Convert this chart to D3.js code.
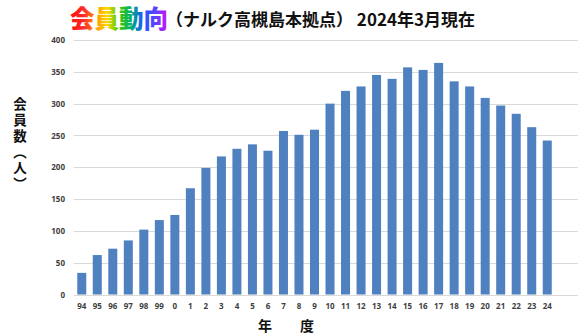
<!DOCTYPE html>
<html>
<head>
<meta charset="utf-8">
<script src="https://cdn.jsdelivr.net/npm/d3@7"></script>
<style>
  html, body { margin: 0; padding: 0; background: #fff; }
  svg { display: block; }
</style>
</head>
<body>
<svg id="chart" width="578" height="334"></svg>
<script>
// Fiscal years (two-digit) and member counts at the end of each year
const years = ["94","95","96","97","98","99","0","1","2","3","4","5","6","7","8","9",
               "10","11","12","13","14","15","16","17","18","19","20","21","22","23","24"];
const members = [34, 62, 72, 85, 102, 117, 125, 167, 199, 217, 229, 236, 226, 257, 251, 259,
                 300, 320, 327, 345, 339, 357, 353, 364, 335, 327, 309, 297, 284, 263, 242];
const yTicks = [0, 50, 100, 150, 200, 250, 300, 350, 400];
const titleMain = "会員動向";
const titleSub = "（ナルク高槻島本拠点） 2024年3月現在";
const yTitle = "会員数（人）";
const xTitle = "年　　度";

const W = 578, H = 334;
const plot = { left: 74, right: 555, top: 40, bottom: 294.5, gridRight: 578 };

const svg = d3.select("#chart");

const x = d3.scaleBand().domain(years).range([plot.left, plot.right]).paddingInner(0.42).paddingOuter(0.21);
const y = d3.scaleLinear().domain([0, 400]).range([plot.bottom, plot.top]);

// Horizontal gridlines
svg.append("g").selectAll("line").data(yTicks).join("line")
  .attr("x1", plot.left).attr("x2", plot.gridRight)
  .attr("y1", d => Math.round(y(d)) + 0.5).attr("y2", d => Math.round(y(d)) + 0.5)
  .attr("stroke", "#d9d9d9").attr("stroke-width", 1);

// Bars
svg.append("g").selectAll("rect").data(members).join("rect")
  .attr("x", (d, i) => x(years[i]))
  .attr("width", x.bandwidth())
  .attr("y", d => y(d))
  .attr("height", d => y(0) - y(d))
  .attr("fill", "#4f80bf");

// Y axis labels
const yAxis = d3.axisLeft(y).tickValues(yTicks).tickSize(0).tickPadding(9);
const gy = svg.append("g").attr("transform", `translate(${plot.left},0)`).call(yAxis);
gy.select(".domain").remove();
gy.selectAll("text").attr("font-family", "'Open Sans', 'DejaVu Sans', sans-serif")
  .attr("font-size", 8).attr("font-weight", 700).attr("fill", "#404040");

// X axis labels
const xAxis = d3.axisBottom(x).tickSize(0).tickPadding(9);
const gx = svg.append("g").attr("transform", `translate(0,${plot.bottom})`).call(xAxis);
gx.select(".domain").remove();
gx.selectAll("text").attr("font-family", "'Open Sans', 'DejaVu Sans', sans-serif")
  .attr("font-size", 8).attr("font-weight", 700).attr("fill", "#404040");

// Rainbow gradient for the main title
const defs = svg.append("defs");
const grad = defs.append("linearGradient").attr("id", "rainbow")
  .attr("gradientUnits", "userSpaceOnUse")
  .attr("x1", 70).attr("x2", 168).attr("y1", 0).attr("y2", 0);
[["0%", "#ff1010"], ["14%", "#ff2a2a"], ["27%", "#ff9a00"], ["38%", "#ffd800"],
 ["50%", "#40c800"], ["62%", "#00b070"], ["74%", "#1a5cff"], ["88%", "#6040ff"], ["100%", "#d010ff"]]
  .forEach(([o, c]) => grad.append("stop").attr("offset", o).attr("stop-color", c));

svg.append("text").text(titleMain)
  .attr("x", 70).attr("y", 28)
  .attr("font-family", "'Noto Sans CJK JP', sans-serif")
  .attr("font-size", 24.5).attr("font-weight", 900)
  .attr("fill", "url(#rainbow)");

svg.append("text").text(titleSub)
  .attr("x", 166).attr("y", 26)
  .attr("font-family", "'Noto Sans CJK JP', sans-serif")
  .attr("font-size", 17).attr("font-weight", 700)
  .attr("fill", "#111");

// Vertical y-axis title
svg.append("text").text(yTitle)
  .attr("x", 20).attr("y", 97)
  .style("writing-mode", "vertical-rl")
  .style("letter-spacing", "2.5px")
  .attr("font-family", "'Noto Sans CJK JP', sans-serif")
  .attr("font-size", 13.5).attr("font-weight", 700).attr("fill", "#111");

// X-axis title
svg.append("text").text(xTitle)
  .attr("x", 286).attr("y", 331)
  .attr("text-anchor", "middle")
  .attr("font-family", "'Noto Sans CJK JP', sans-serif")
  .attr("font-size", 14).attr("font-weight", 700).attr("fill", "#111");
</script>
</body>
</html>
